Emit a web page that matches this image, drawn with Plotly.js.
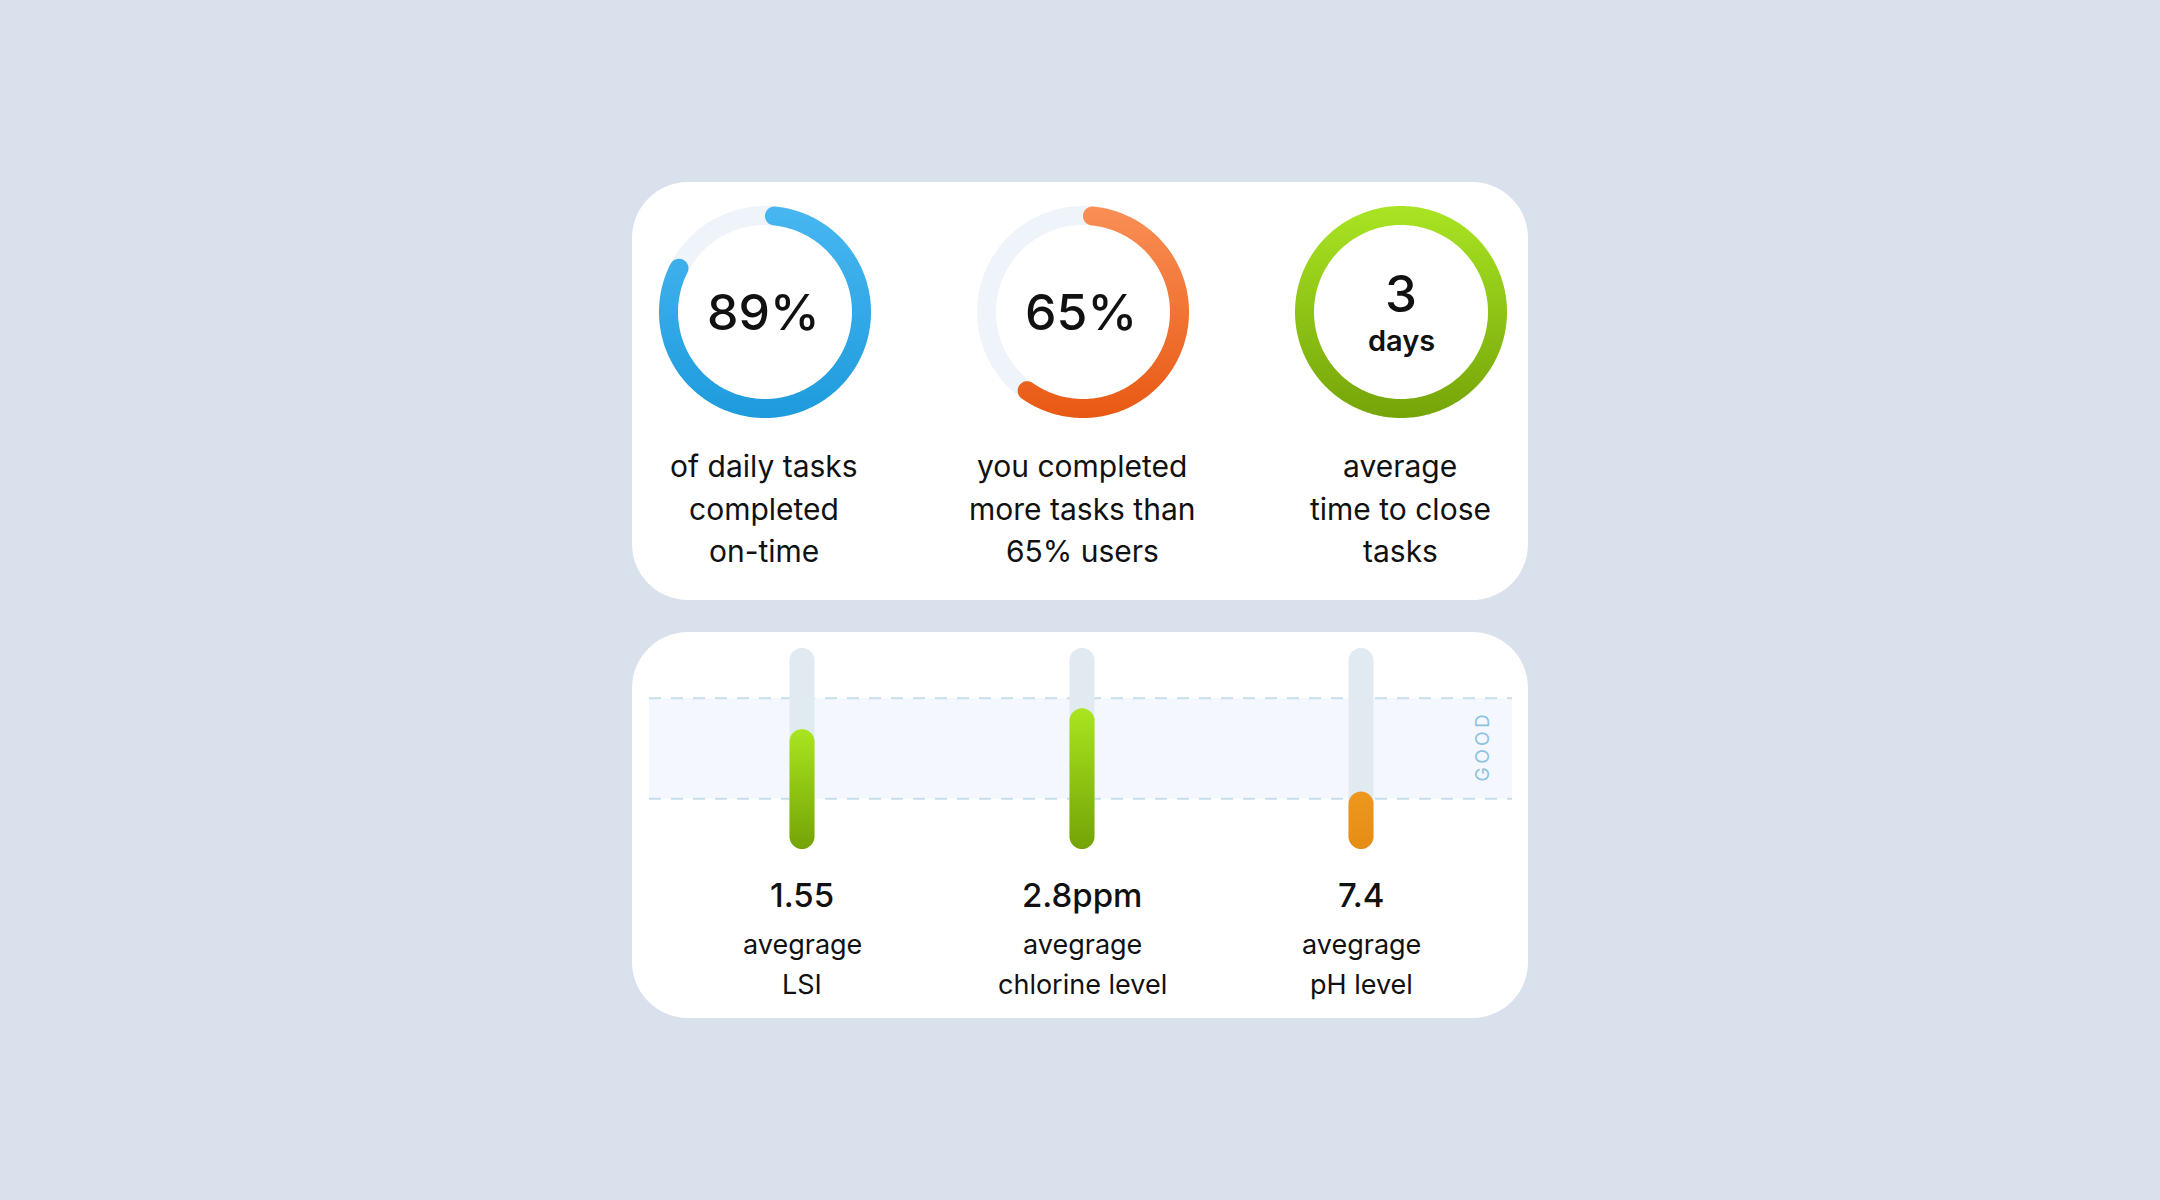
<!DOCTYPE html>
<html>
<head>
<meta charset="utf-8">
<script src="https://cdn.plot.ly/plotly-3.0.1.min.js"></script>
<style>
html,body{margin:0;padding:0;background:#D9E1EC;}
#chart{width:2160px;height:1200px;}
</style>
</head>
<body>
<div id="chart"></div>
<script>
// ---------------- DATA ----------------
const kpiValues = [89, 65, 3];
const kpiValueText = ['89%', '65%', '3'];
const kpiUnitText = ['', '', 'days'];
const kpiRingPercent = [89, 65, 100];
const kpiCaptions = [
  ['of daily tasks', 'completed', 'on-time'],
  ['you completed', 'more tasks than', '65% users'],
  ['average', 'time to close', 'tasks']
];

const metricValues = [1.55, 2.8, 7.4];
const metricValueText = ['1.55', '2.8ppm', '7.4'];
const metricCaptions = [
  ['avegrage', 'LSI'],
  ['avegrage', 'chlorine level'],
  ['avegrage', 'pH level']
];
const scaleMin = [0, 0, 7.0];
const scaleMax = [2.6, 4.0, 8.4];
const goodLow = [0.65, 1.0, 7.35];
const goodHigh = [1.95, 3.0, 8.05];
const bandLabel = 'GOOD';

// ---------------- STYLE / LAYOUT CONSTANTS ----------------
const W = 2160, H = 1200;
const FONT = 'Inter, "Open Sans", "DejaVu Sans", sans-serif';
const ringCx = [765, 1083, 1401];
const ringCy = 312;
const rOut = 106, rIn = 87;
const ringSweep = 340;
const ringTrackColor = '#EFF4FA';
const ringColors = [['#48B7F1', '#1E9BDD'], ['#FA8F56', '#E85913'], ['#A9E423', '#75A408']];

const barCx = [802, 1082, 1361];
const trackTop = 648, trackBottom = 849, barHalf = 12.5;
const barTrackColor = '#E1E9F1';
const barColors = [['#A9E51F', '#74A306'], ['#A9E51F', '#74A306'], ['#EE981E', '#E58C14']];

const cards = [[632, 182, 1528, 600], [632, 632, 1528, 1018]];
const cardRadius = 56;
const bandX = [649, 1512];

// ---------------- GEOMETRY HELPERS ----------------
function pt(cx, cy, r, deg) {
  const a = deg * Math.PI / 180;
  return [cx + r * Math.sin(a), cy - r * Math.cos(a)];
}
function arcPolygon(cx, cy, ri, ro, a0, a1) {
  const xs = [], ys = [];
  const rm = (ri + ro) / 2, rc = (ro - ri) / 2;
  const push = p => { xs.push(p[0]); ys.push(p[1]); };
  const steps = Math.max(4, Math.ceil(Math.abs(a1 - a0)));
  for (let k = 0; k <= steps; k++) push(pt(cx, cy, ro, a0 + (a1 - a0) * k / steps));
  // end cap
  let a = a1 * Math.PI / 180;
  let C = pt(cx, cy, rm, a1);
  let u = [Math.sin(a), -Math.cos(a)], t = [Math.cos(a), Math.sin(a)];
  for (let k = 0; k <= 24; k++) {
    const f = Math.PI * k / 24;
    push([C[0] + rc * (Math.cos(f) * u[0] + Math.sin(f) * t[0]), C[1] + rc * (Math.cos(f) * u[1] + Math.sin(f) * t[1])]);
  }
  for (let k = steps; k >= 0; k--) push(pt(cx, cy, ri, a0 + (a1 - a0) * k / steps));
  // start cap
  a = a0 * Math.PI / 180;
  C = pt(cx, cy, rm, a0);
  u = [Math.sin(a), -Math.cos(a)]; t = [Math.cos(a), Math.sin(a)];
  for (let k = 24; k >= 0; k--) {
    const f = Math.PI * k / 24;
    push([C[0] + rc * (Math.cos(f) * u[0] - Math.sin(f) * t[0]), C[1] + rc * (Math.cos(f) * u[1] - Math.sin(f) * t[1])]);
  }
  return [xs, ys];
}
function annulus(cx, cy, ri, ro) {
  const xs = [], ys = [];
  for (let k = 0; k <= 360; k++) { const p = pt(cx, cy, ro, k); xs.push(p[0]); ys.push(p[1]); }
  for (let k = 360; k >= 0; k--) { const p = pt(cx, cy, ri, k); xs.push(p[0]); ys.push(p[1]); }
  return [xs, ys];
}
function capsule(half, yLo, yHi, rData) {
  const xs = [], ys = [];
  for (let k = 0; k <= 30; k++) {
    const th = Math.PI + Math.PI * k / 30;
    xs.push(half * Math.cos(th)); ys.push(yLo + rData + rData * Math.sin(th));
  }
  for (let k = 0; k <= 30; k++) {
    const th = Math.PI * k / 30;
    xs.push(half * Math.cos(th)); ys.push(yHi - rData + rData * Math.sin(th));
  }
  return [xs, ys];
}
function roundRectPaper(x0, y0, x1, y1, r) {
  const X = v => (v / W).toFixed(6), Y = v => (1 - v / H).toFixed(6);
  const k = 0.5523 * r;
  return 'M' + X(x0 + r) + ',' + Y(y0) +
    ' L' + X(x1 - r) + ',' + Y(y0) +
    ' C' + X(x1 - r + k) + ',' + Y(y0) + ' ' + X(x1) + ',' + Y(y0 + r - k) + ' ' + X(x1) + ',' + Y(y0 + r) +
    ' L' + X(x1) + ',' + Y(y1 - r) +
    ' C' + X(x1) + ',' + Y(y1 - r + k) + ' ' + X(x1 - r + k) + ',' + Y(y1) + ' ' + X(x1 - r) + ',' + Y(y1) +
    ' L' + X(x0 + r) + ',' + Y(y1) +
    ' C' + X(x0 + r - k) + ',' + Y(y1) + ' ' + X(x0) + ',' + Y(y1 - r + k) + ' ' + X(x0) + ',' + Y(y1 - r) +
    ' L' + X(x0) + ',' + Y(y0 + r) +
    ' C' + X(x0) + ',' + Y(y0 + r - k) + ' ' + X(x0 + r - k) + ',' + Y(y0) + ' ' + X(x0 + r) + ',' + Y(y0) + ' Z';
}

// ---------------- TRACES ----------------
const traces = [];
const capDeg = ((rOut - rIn) / 2) / ((rOut + rIn) / 2) * 180 / Math.PI;

kpiRingPercent.forEach((pct, i) => {
  const cx = ringCx[i];
  const grad = {
    type: 'vertical',
    colorscale: [[0, ringColors[i][0]], [1, ringColors[i][1]]],
    start: ringCy - rOut, stop: ringCy + rOut
  };
  if (pct >= 100) {
    const [xs, ys] = annulus(cx, ringCy, rIn, rOut);
    traces.push({type: 'scatter', x: xs, y: ys, mode: 'none', fill: 'toself', fillgradient: grad,
      hoverinfo: 'skip', showlegend: false, xaxis: 'x', yaxis: 'y'});
  } else {
    const [tx, ty] = annulus(cx, ringCy, rIn, rOut);
    traces.push({type: 'scatter', x: tx, y: ty, mode: 'none', fill: 'toself', fillcolor: ringTrackColor,
      hoverinfo: 'skip', showlegend: false, xaxis: 'x', yaxis: 'y'});
    const endDeg = pct / 100 * ringSweep - capDeg;
    const [xs, ys] = arcPolygon(cx, ringCy, rIn, rOut, capDeg, endDeg);
    traces.push({type: 'scatter', x: xs, y: ys, mode: 'none', fill: 'toself', fillgradient: grad,
      hoverinfo: 'skip', showlegend: false, xaxis: 'x', yaxis: 'y'});
  }
});

const trackPx = trackBottom - trackTop;
metricValues.forEach((v, i) => {
  const ax = i + 2;
  const rData = barHalf * (scaleMax[i] - scaleMin[i]) / trackPx;
  const [tx, ty] = capsule(barHalf, scaleMin[i], scaleMax[i], rData);
  traces.push({type: 'scatter', x: tx, y: ty, mode: 'none', fill: 'toself', fillcolor: barTrackColor,
    hoverinfo: 'skip', showlegend: false, xaxis: 'x' + ax, yaxis: 'y' + ax});
  const [bx, by] = capsule(barHalf, scaleMin[i], v, rData);
  traces.push({type: 'scatter', x: bx, y: by, mode: 'none', fill: 'toself',
    fillgradient: {type: 'vertical', colorscale: [[0, barColors[i][1]], [1, barColors[i][0]]], start: scaleMin[i], stop: v},
    hoverinfo: 'skip', showlegend: false, xaxis: 'x' + ax, yaxis: 'y' + ax});
});

// ---------------- LAYOUT ----------------
const layout = {
  width: W, height: H,
  margin: {l: 0, r: 0, t: 0, b: 0, pad: 0},
  paper_bgcolor: '#D9E1EC',
  plot_bgcolor: 'rgba(0,0,0,0)',
  showlegend: false,
  xaxis: {domain: [0, 1], range: [0, W], visible: false, fixedrange: true},
  yaxis: {domain: [0, 1], range: [H, 0], visible: false, fixedrange: true},
  shapes: [],
  annotations: []
};
metricValues.forEach((v, i) => {
  const ax = i + 2;
  layout['xaxis' + ax] = {domain: [(barCx[i] - 30) / W, (barCx[i] + 30) / W], range: [-30, 30],
    visible: false, fixedrange: true, anchor: 'y' + ax};
  layout['yaxis' + ax] = {domain: [1 - trackBottom / H, 1 - trackTop / H], range: [scaleMin[i], scaleMax[i]],
    visible: false, fixedrange: true, anchor: 'x' + ax};
});

cards.forEach(c => {
  layout.shapes.push({type: 'path', xref: 'paper', yref: 'paper', layer: 'below',
    path: roundRectPaper(c[0], c[1], c[2], c[3], cardRadius), fillcolor: '#FFFFFF', line: {width: 0}});
});
layout.shapes.push({type: 'rect', xref: 'paper', yref: 'y2', layer: 'below',
  x0: bandX[0] / W, x1: bandX[1] / W, y0: goodLow[0], y1: goodHigh[0],
  fillcolor: '#F4F8FE', line: {width: 0}});
[goodLow[0], goodHigh[0]].forEach(yv => {
  layout.shapes.push({type: 'line', xref: 'paper', yref: 'y2', layer: 'below',
    x0: bandX[0] / W, x1: bandX[1] / W, y0: yv, y1: yv,
    line: {color: '#C8DDEA', width: 2, dash: '12px,10px'}});
});

function addText(text, x, y, size, weight, color, extra) {
  layout.annotations.push(Object.assign({
    text: text, x: x, y: y, xref: 'x', yref: 'y', showarrow: false,
    xanchor: 'center', yanchor: 'middle',
    font: {family: FONT, size: size, weight: weight, color: color || '#111111'}
  }, extra || {}));
}

kpiValueText.forEach((t, i) => {
  if (kpiUnitText[i]) {
    addText(t, ringCx[i], 293, 51, 500);
    addText(kpiUnitText[i], ringCx[i], 340, 29, 600);
  } else {
    addText(t, ringCx[i] - 2, 312, 50, 500);
  }
  kpiCaptions[i].forEach((line, j) => addText(line, ringCx[i] - 1, 466 + j * 42.5, 30, 400));
});

metricValueText.forEach((t, i) => {
  addText(t, barCx[i], 895, 33, 500);
  metricCaptions[i].forEach((line, j) => addText(line, barCx[i], 944 + j * 40, 27, 400));
});

layout.annotations.push({
  text: bandLabel.split('').join('\u2009'), xref: 'paper', yref: 'y2',
  x: 1482 / W, y: (goodLow[0] + goodHigh[0]) / 2, showarrow: false, textangle: -90,
  xanchor: 'center', yanchor: 'middle',
  font: {family: FONT, size: 19, weight: 400, color: '#8FC3DF'}
});

Plotly.newPlot('chart', traces, layout, {displayModeBar: false, staticPlot: true});
</script>
</body>
</html>
